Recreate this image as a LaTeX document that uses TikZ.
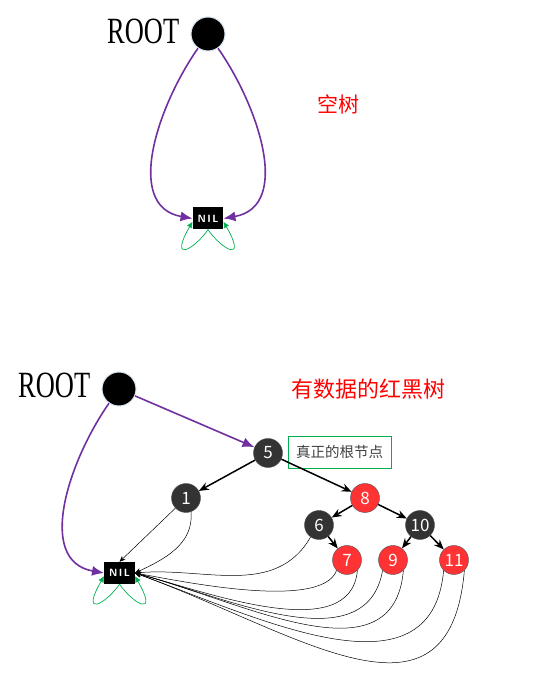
\documentclass[tikz,border=0pt]{standalone}
\usepackage{fontspec}
\usepackage{tikz}
\usetikzlibrary{arrows.meta}
\newfontfamily\cjk{Noto Sans CJK SC}
\newfontfamily\rootfont{Liberation Serif}
\definecolor{rootpurple}{RGB}{112,48,160}
\definecolor{loopgreen}{RGB}{0,176,80}
\definecolor{nodered}{RGB}{255,51,51}
\definecolor{nodeblack}{RGB}{51,51,51}
\definecolor{halo}{RGB}{215,228,242}
\tikzset{
  rootdot/.style={circle,fill=black,draw=halo,line width=1pt,minimum size=34pt,inner sep=0pt},
  rootlabel/.style={anchor=base west,inner sep=0pt},
  nilbox/.style={fill=black,text=white,minimum width=30.5pt,minimum height=22pt,inner sep=0pt,
    font=\sffamily\bfseries\fontsize{10.5}{10.5}\selectfont},
  blacknode/.style={circle,fill=nodeblack,draw=black!70,text=white,minimum size=29pt,inner sep=0pt,
    font=\cjk\fontsize{17}{17}\selectfont},
  rednode/.style={blacknode,fill=nodered},
  rootarrow/.style={draw=rootpurple,line width=1.6pt,-{Latex[length=12pt,width=10pt]}},
  treearrow/.style={line width=1.5pt,-{Stealth[length=10pt,width=8pt]}},
  nilarrow/.style={line width=0.5pt,-{Stealth[length=6pt,width=5pt]}},
  selfloop/.style={draw=loopgreen,line width=0.7pt,-{Latex[length=6pt,width=6pt]}},
  title/.style={text=red,font=\cjk\fontsize{21}{21}\selectfont}
}
\newcommand{\rootword}{\scalebox{0.715}[1]{\rootfont\fontsize{37}{37}\selectfont ROOT}}
\newcommand{\nilword}{N\kern1.5pt I\kern1.5pt L}

\begin{document}
\begin{tikzpicture}[x=1pt,y=1pt]
\useasboundingbox (0,0) rectangle (560,678);
% empty tree
\node[rootlabel] (rootlbl1) at (107,634) {\rootword};
\node[rootdot] (r1) at (208,644) {};
\node[nilbox] (nil1) at (208,459.5) {\nilword};
\node[title] (empty) at (338,574) {空树};
\draw[rootarrow] (r1) to[out=235,in=170,looseness=1.05] (nil1.west);
\draw[rootarrow] (r1) to[out=-55,in=10,looseness=1.05] (nil1.east);
\draw[selfloop] (nil1.south) to[out=235,in=240,out distance=25pt,in distance=48pt] ([yshift=8pt]nil1.south west);
\draw[selfloop] (nil1.south) to[out=-55,in=-60,out distance=25pt,in distance=48pt] ([yshift=8pt]nil1.south east);

% tree with data
\node[rootlabel] (rootlbl2) at (18,280) {\rootword};
\node[rootdot] (r2) at (119,289) {};
\node[nilbox] (nil2) at (119.5,105) {\nilword};
\node[title,font=\cjk\fontsize{22}{22}\selectfont] (full) at (368,289) {有数据的红黑树};
\node[draw=loopgreen,line width=0.8pt,minimum width=103pt,minimum height=32pt,inner sep=0pt,
  text=black!75,font=\cjk\fontsize{14.5}{14.5}\selectfont] (realroot) at (339.5,226) {真正的根节点};
\node[blacknode] (n5) at (268,225) {5};
\node[blacknode] (n1) at (186,180) {1};
\node[rednode] (n8) at (365,180) {8};
\node[blacknode] (n6) at (319,153) {6};
\node[blacknode] (n10) at (420,153) {10};
\node[rednode] (n7) at (347,118) {7};
\node[rednode] (n9) at (393,118) {9};
\node[rednode] (n11) at (454,118) {11};

\draw[rootarrow] (r2) -- (n5);
\draw[rootarrow] (r2) to[out=235,in=170,looseness=1.05] (nil2.west);
\draw[selfloop] (nil2.south) to[out=235,in=240,out distance=25pt,in distance=48pt] ([yshift=8pt]nil2.south west);
\draw[selfloop] (nil2.south) to[out=-55,in=-60,out distance=25pt,in distance=48pt] ([yshift=8pt]nil2.south east);

\draw[treearrow] (n5) -- (n1);
\draw[treearrow] (n5) -- (n8);
\draw[treearrow] (n8) -- (n6);
\draw[treearrow] (n8) -- (n10);
\draw[treearrow] (n6) -- (n7);
\draw[treearrow] (n10) -- (n9);
\draw[treearrow] (n10) -- (n11);

% leaves point to NIL
\draw[nilarrow] (n1) -- (nil2.north);
\draw[nilarrow] (n1.290) to[out=-85,in=25] (nil2.east);
\draw[nilarrow] (n6.235) to[out=-120,in=5] (nil2.east);
\draw[nilarrow] (n7.225) to[out=-110,in=-10,looseness=0.55] (nil2.east);
\draw[nilarrow] (n7.-45) to[out=-95,in=-15,looseness=0.87] (nil2.east);
\draw[nilarrow] (n9.225) to[out=-100,in=-15,looseness=0.97] (nil2.east);
\draw[nilarrow] (n9.-45) to[out=-95,in=-15,looseness=1.07] (nil2.east);
\draw[nilarrow] (n11.225) to[out=-95,in=-20,looseness=1.1] (nil2.east);
\draw[nilarrow] (n11.-45) to[out=-95,in=-20,looseness=1.34] (nil2.east);
\end{tikzpicture}
\end{document}
